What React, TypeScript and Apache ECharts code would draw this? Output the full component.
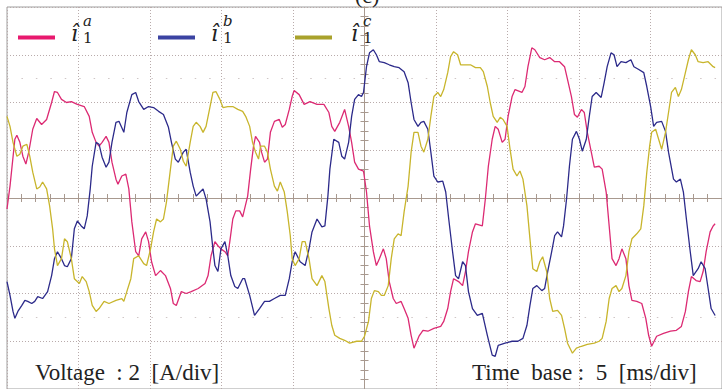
import React, { useEffect, useRef } from "react";
import * as echarts from "echarts";

// Oscilloscope capture: time base 5 ms/div (10 div), current 2 A/div (8 div)
const timeMin = 0;
const timeMax = 50;
const timeStep = 5;
const currentMin = -8;
const currentMax = 8;
const currentStep = 2;

const phaseLetters = ["a", "b", "c"];
const traceColors = ["#dc2a73", "#2c2a8a", "#c8b52c"];
const legendColors = ["#e8196e", "#3b43a2", "#a9a22c"];
const footerLeft = "Voltage\u00A0\u00A0: 2\u00A0\u00A0[A/div]";
const footerRight = "Time\u00A0\u00A0base\u00A0: \u00A05\u00A0\u00A0[ms/div]";
const serifFamily = "Liberation Serif";
const mathFamily = "DejaVu Serif";

// [time ms, current A]
const ia: [number, number][] = [
  [0,-0.46],[0.21,0.50],[0.55,2.46],[0.69,2.63],[0.90,2.33],[1.11,1.75],[1.32,1.42],[1.52,1.92],[1.80,2.88],[2.08,3.33],[2.42,3.08],[2.77,3.29],[3.12,4.00],[3.32,4.46],[3.53,4.42],[3.81,4.13],[4.16,4.00],[4.50,4.04],[4.92,3.92],[5.40,3.83],[5.75,3.42],[5.96,2.75],[6.23,2.33],[6.44,2.17],[6.65,2.33],[6.93,2.58],[7.13,2.33],[7.34,1.50],[7.62,0.79],[7.76,0.58],[8.03,0.92],[8.31,1.00],[8.52,0.38],[8.73,-1.00],[9.00,-2.25],[9.21,-2.42],[9.42,-1.71],[9.70,-1.42],[9.90,-1.83],[10.11,-2.67],[10.39,-3.25],[10.73,-3.04],[11.08,-3.25],[11.43,-3.79],[11.63,-4.42],[11.84,-4.50],[12.19,-3.92],[12.53,-4.00],[12.88,-3.92],[13.37,-3.79],[13.85,-3.58],[14.06,-3.25],[14.27,-2.42],[14.54,-1.83],[14.75,-2.00],[14.96,-2.13],[15.24,-2.25],[15.44,-2.42],[15.58,-1.83],[15.79,-0.88],[16.00,-0.54],[16.27,-0.54],[16.48,-0.79],[16.83,0.08],[17.04,1.21],[17.24,2.17],[17.38,2.58],[17.66,2.33],[17.80,1.92],[18.01,1.50],[18.21,1.63],[18.42,2.75],[18.70,3.21],[19.04,3.29],[19.25,2.96],[19.46,3.08],[19.74,3.71],[19.94,4.25],[20.08,4.50],[20.43,4.33],[20.78,3.92],[21.19,4.04],[21.68,3.92],[22.16,3.92],[22.51,3.58],[22.71,3.00],[22.92,2.79],[23.27,3.17],[23.61,3.71],[23.89,3.00],[24.10,2.33],[24.31,1.50],[24.58,1.21],[24.93,1.13],[25.14,0.25],[25.35,-1.17],[25.62,-2.25],[25.83,-2.83],[26.04,-2.54],[26.32,-2.13],[26.52,-2.54],[26.73,-3.50],[27.01,-4.21],[27.22,-4.42],[27.56,-4.33],[27.77,-4.63],[28.05,-5.04],[28.26,-5.75],[28.46,-6.29],[28.81,-5.79],[29.09,-5.54],[29.43,-5.58],[29.85,-5.46],[30.33,-5.38],[30.54,-5.17],[30.82,-4.63],[31.02,-3.92],[31.23,-3.38],[31.58,-3.50],[31.86,-3.67],[32.06,-3.08],[32.27,-2.25],[32.55,-1.42],[32.76,-1.08],[33.24,-1.17],[33.45,-0.04],[33.66,1.33],[33.93,2.46],[34.14,3.00],[34.35,2.88],[34.63,2.33],[34.83,2.46],[35.04,3.42],[35.32,4.25],[35.53,4.54],[36.01,4.42],[36.22,4.67],[36.43,5.50],[36.70,6.29],[36.91,6.21],[37.26,5.88],[37.60,5.79],[37.95,5.88],[38.30,5.71],[38.64,5.71],[38.99,5.50],[39.20,4.96],[39.47,4.25],[39.68,3.50],[39.89,3.38],[40.17,3.71],[40.37,3.58],[40.58,2.75],[40.86,1.92],[41.07,1.29],[41.41,1.33],[41.62,1.21],[41.90,0.25],[42.11,-1.17],[42.31,-2.54],[42.59,-2.83],[42.80,-2.54],[43.00,-2.13],[43.28,-2.54],[43.49,-3.67],[43.70,-4.29],[44.04,-4.33],[44.39,-4.42],[44.67,-5.04],[44.87,-5.75],[45.08,-6.21],[45.43,-5.79],[45.91,-5.67],[46.40,-5.58],[46.81,-5.54],[47.16,-5.38],[47.44,-4.75],[47.65,-3.92],[47.86,-3.29],[48.19,-3.46],[48.47,-3.50],[48.68,-3.08],[48.89,-2.25],[49.17,-1.42],[49.38,-1.17],[49.52,-1.08]
];

const ib: [number, number][] = [
  [0,-3.50],[0.21,-4.08],[0.42,-4.75],[0.55,-5.04],[0.76,-4.75],[1.04,-4.50],[1.25,-4.29],[1.45,-4.33],[1.73,-4.42],[1.94,-4.33],[2.15,-4.13],[2.49,-4.21],[2.84,-3.92],[3.12,-3.25],[3.32,-2.54],[3.53,-2.25],[3.81,-2.54],[4.02,-2.83],[4.22,-2.88],[4.50,-2.54],[4.71,-1.29],[4.92,-0.96],[5.19,-1.17],[5.40,-1.29],[5.61,-0.75],[5.82,0.38],[5.96,1.33],[6.23,2.33],[6.44,2.25],[6.65,1.71],[6.93,1.29],[7.13,1.50],[7.34,2.33],[7.62,3.17],[7.83,3.21],[8.17,2.75],[8.38,3.58],[8.73,4.33],[9.00,4.42],[9.21,4.04],[9.56,3.71],[9.90,3.83],[10.25,3.79],[10.60,3.63],[10.94,3.50],[11.29,2.96],[11.50,2.33],[11.77,1.63],[11.98,1.50],[12.33,1.92],[12.53,2.04],[12.81,1.08],[13.02,0.50],[13.23,0.08],[13.50,0.25],[13.71,0.38],[13.92,-0.04],[14.20,-1.00],[14.40,-2.13],[14.54,-2.83],[14.75,-3.08],[14.96,-2.13],[15.24,-1.83],[15.44,-2.42],[15.65,-3.25],[15.93,-3.71],[16.14,-3.79],[16.48,-3.38],[16.62,-3.38],[16.97,-4.08],[17.31,-4.92],[17.66,-4.63],[18.01,-4.33],[18.35,-4.33],[18.70,-4.21],[19.11,-4.08],[19.46,-4.08],[19.74,-3.38],[19.94,-2.67],[20.15,-2.25],[20.50,-2.67],[20.85,-2.83],[21.12,-2.13],[21.33,-1.42],[21.68,-0.88],[22.02,-1.21],[22.23,-1.17],[22.44,0.08],[22.58,1.21],[22.85,2.46],[23.20,2.33],[23.41,1.75],[23.61,1.63],[23.89,2.33],[24.10,3.42],[24.31,4.13],[24.58,4.33],[24.79,4.25],[24.93,4.42],[25.14,5.50],[25.35,6.08],[25.62,6.21],[25.83,6.00],[26.04,5.71],[26.38,5.67],[26.73,5.58],[27.08,5.50],[27.42,5.46],[27.77,5.29],[28.05,4.83],[28.26,4.00],[28.46,3.29],[28.74,3.00],[28.95,3.17],[29.15,3.21],[29.43,2.88],[29.64,1.92],[29.85,0.92],[30.12,0.67],[30.47,0.71],[30.68,0.25],[30.89,-0.88],[31.16,-2.25],[31.37,-3.25],[31.58,-3.38],[31.86,-2.67],[32.06,-2.83],[32.27,-3.92],[32.55,-4.63],[32.89,-4.92],[33.24,-4.83],[33.59,-5.75],[33.93,-6.58],[34.14,-6.63],[34.35,-6.17],[34.83,-6.08],[35.32,-6.00],[35.73,-6.00],[36.08,-5.88],[36.36,-5.33],[36.57,-4.50],[36.77,-3.79],[37.05,-3.67],[37.40,-3.88],[37.60,-3.79],[37.81,-3.08],[38.09,-2.25],[38.30,-1.58],[38.50,-1.42],[38.78,-1.63],[38.92,-1.17],[39.13,-0.04],[39.33,1.33],[39.54,2.46],[39.82,2.79],[40.03,2.46],[40.23,1.96],[40.51,2.46],[40.72,3.42],[40.92,4.25],[41.20,4.42],[41.55,4.21],[41.76,4.83],[41.97,5.50],[42.24,6.08],[42.45,6.00],[42.66,5.50],[42.94,5.71],[43.28,5.67],[43.63,5.79],[43.84,5.50],[44.18,5.38],[44.53,5.25],[44.74,4.67],[45.01,3.83],[45.22,3.00],[45.43,3.17],[45.78,3.21],[46.05,2.79],[46.26,1.92],[46.61,0.79],[46.81,0.67],[47.09,0.79],[47.30,0.25],[47.51,-0.88],[47.78,-2.25],[47.99,-3.25],[48.33,-2.96],[48.54,-2.67],[48.82,-2.96],[49.03,-3.79],[49.24,-4.63],[49.52,-4.92]
];

const ic: [number, number][] = [
  [0,3.42],[0.21,3.00],[0.42,2.33],[0.69,1.75],[0.90,1.83],[1.11,2.17],[1.39,2.25],[1.59,1.75],[1.80,1.08],[2.08,0.38],[2.29,0.46],[2.49,0.67],[2.77,0.38],[2.98,-0.33],[3.19,-1.29],[3.32,-2.13],[3.53,-2.83],[3.81,-2.54],[4.02,-1.71],[4.22,-1.83],[4.50,-2.54],[4.71,-3.38],[5.06,-3.58],[5.26,-3.29],[5.54,-3.50],[5.75,-3.92],[5.96,-4.50],[6.23,-4.75],[6.44,-4.63],[6.79,-4.33],[7.13,-4.42],[7.62,-4.29],[8.03,-4.21],[8.17,-4.33],[8.38,-3.92],[8.66,-3.38],[8.86,-2.54],[9.21,-2.42],[9.56,-2.75],[9.76,-2.83],[10.04,-2.13],[10.25,-1.42],[10.46,-0.88],[10.73,-1.00],[10.94,-0.88],[11.15,-0.17],[11.43,1.21],[11.63,2.17],[11.84,2.38],[12.12,2.04],[12.33,1.54],[12.53,1.33],[12.81,2.33],[13.02,3.00],[13.23,3.17],[13.50,3.00],[13.71,2.75],[13.92,3.00],[14.20,3.83],[14.40,4.42],[14.61,4.46],[14.89,4.13],[15.10,3.79],[15.44,3.83],[15.79,3.83],[16.14,3.71],[16.48,3.63],[16.69,3.42],[16.97,3.00],[17.17,2.33],[17.38,1.92],[17.59,1.63],[17.73,2.17],[18.01,2.17],[18.21,1.92],[18.42,1.21],[18.70,0.50],[18.91,0.29],[19.11,0.67],[19.39,0.25],[19.60,-0.58],[19.81,-1.58],[19.94,-2.54],[20.15,-2.83],[20.43,-2.54],[20.64,-1.83],[20.85,-1.83],[21.12,-2.54],[21.33,-3.38],[21.68,-3.67],[22.02,-3.25],[22.23,-3.50],[22.51,-4.63],[22.71,-5.33],[22.92,-5.75],[23.27,-5.88],[23.61,-5.96],[23.96,-6.08],[24.45,-6.00],[24.79,-6.00],[25.00,-5.79],[25.28,-5.17],[25.48,-4.21],[25.69,-3.88],[25.97,-3.92],[26.18,-4.08],[26.38,-4.08],[26.66,-3.67],[26.87,-2.54],[27.08,-1.71],[27.35,-1.50],[27.56,-1.58],[27.77,-0.58],[28.05,0.50],[28.26,1.92],[28.46,2.75],[28.74,2.75],[28.95,2.17],[29.15,1.92],[29.43,2.46],[29.64,3.42],[29.85,4.25],[30.12,4.42],[30.33,4.25],[30.54,4.54],[30.82,5.25],[31.02,5.92],[31.23,6.13],[31.51,6.00],[31.72,5.58],[32.06,5.58],[32.41,5.58],[32.76,5.46],[33.10,5.46],[33.31,5.29],[33.59,4.67],[33.79,4.00],[34.00,3.42],[34.28,3.17],[34.49,3.38],[34.69,3.29],[34.97,3.00],[35.18,2.04],[35.39,1.21],[35.66,0.92],[35.87,1.13],[36.08,0.79],[36.36,-0.33],[36.57,-1.71],[36.77,-2.96],[37.05,-3.08],[37.26,-2.67],[37.46,-2.46],[37.74,-3.08],[37.95,-4.21],[38.16,-4.75],[38.50,-4.71],[38.78,-4.92],[38.99,-5.46],[39.20,-6.08],[39.54,-6.50],[39.82,-6.29],[40.17,-6.21],[40.58,-6.13],[41.07,-6.08],[41.41,-6.00],[41.62,-5.88],[41.90,-5.17],[42.11,-4.21],[42.31,-3.79],[42.59,-3.67],[42.80,-3.92],[43.00,-3.79],[43.28,-3.25],[43.49,-2.25],[43.70,-1.71],[44.04,-1.50],[44.32,-1.29],[44.53,-0.33],[44.74,1.08],[44.94,2.17],[45.08,2.75],[45.36,2.88],[45.57,2.46],[45.78,2.04],[46.05,2.75],[46.26,3.58],[46.47,4.42],[46.74,4.63],[46.95,4.25],[47.16,4.54],[47.44,5.25],[47.65,5.79],[47.86,6.21],[48.13,6.00],[48.33,5.71],[48.68,5.67],[49.03,5.71],[49.38,5.50],[49.52,5.46]
];

const traces = [ia, ib, ic];

export default function App() {
  const ref = useRef<HTMLDivElement>(null);

  useEffect(() => {
    if (!ref.current) return;
    const chart = echarts.init(ref.current, null, { renderer: "svg" });

    const dotted = { type: [1, 2] as any, color: "#b9abab", width: 1 };
    const centerColor = "#a8998f";

    const legendX = [18, 158, 295];
    const labelX = [71, 211, 351];
    const graphic: any[] = [];
    const titles: any[] = [];
    phaseLetters.forEach((letter, i) => {
      graphic.push({
        type: "rect",
        shape: { x: legendX[i], y: 35.5, width: 37, height: 4 },
        style: { fill: legendColors[i] },
        silent: true,
      });
      titles.push({
        text: "\u00EE",
        left: labelX[i],
        top: 20,
        padding: 0,
        textStyle: { fontFamily: mathFamily, fontStyle: "italic", fontWeight: "normal", fontSize: 22, color: "#222", lineHeight: 26 },
      });
      titles.push({
        text: letter,
        left: labelX[i] + 12,
        top: 13,
        padding: 0,
        textStyle: { fontFamily: mathFamily, fontStyle: "italic", fontWeight: "normal", fontSize: 15, color: "#222", lineHeight: 16 },
      });
      titles.push({
        text: "1",
        left: labelX[i] + 12,
        top: 30,
        padding: 0,
        textStyle: { fontFamily: mathFamily, fontWeight: "normal", fontSize: 15, color: "#222", lineHeight: 16 },
      });
    });
    titles.push({
      text: footerLeft,
      left: 35,
      top: 359,
      padding: 0,
      textStyle: { fontFamily: serifFamily, fontWeight: "normal", fontSize: 23, color: "#222", lineHeight: 26 },
    });
    titles.push({
      text: footerRight,
      left: 472,
      top: 359,
      padding: 0,
      textStyle: { fontFamily: serifFamily, fontWeight: "normal", fontSize: 23, color: "#222", lineHeight: 26 },
    });
    titles.push({
      text: "(c)",
      left: 355,
      top: -17,
      padding: 0,
      textStyle: { fontFamily: serifFamily, fontWeight: "normal", fontSize: 22, color: "#222", lineHeight: 24 },
    });

    const option: any = {
      animation: false,
      backgroundColor: "#ffffff",
      title: titles,
      grid: {
        left: 7,
        top: 7,
        width: 722,
        height: 384,
        show: true,
        borderColor: "#9e9e9e",
        borderWidth: 1,
        backgroundColor: "transparent",
      },
      xAxis: [
        {
          type: "value",
          min: timeMin,
          max: timeMax,
          interval: timeStep,
          position: "bottom",
          axisLine: { show: true, onZero: true, onZeroAxisIndex: 0, lineStyle: { color: centerColor, width: 1 } },
          axisTick: { show: true, inside: true, length: 4, lineStyle: { color: centerColor } },
          minorTick: { show: true, splitNumber: 5, length: 4, lineStyle: { color: centerColor } },
          axisLabel: { show: false },
          splitLine: { show: true, lineStyle: dotted },
        },
        {
          type: "value",
          min: -(timeMax - timeMin) / 2,
          max: (timeMax - timeMin) / 2,
          interval: timeStep,
          position: "bottom",
          axisLine: { show: true, onZero: true, onZeroAxisIndex: 0, lineStyle: { color: centerColor, width: 1 } },
          axisTick: { show: true, inside: false, length: 4, lineStyle: { color: centerColor } },
          minorTick: { show: true, splitNumber: 5, length: 4, lineStyle: { color: centerColor } },
          axisLabel: { show: false },
          splitLine: { show: false },
        },
      ],
      yAxis: [
        {
          type: "value",
          min: currentMin,
          max: currentMax,
          interval: currentStep,
          position: "left",
          axisLine: { show: true, onZero: true, onZeroAxisIndex: 1, lineStyle: { color: centerColor, width: 1 } },
          axisTick: { show: true, inside: true, length: 4, lineStyle: { color: centerColor } },
          minorTick: { show: true, splitNumber: 5, length: 4, lineStyle: { color: centerColor } },
          axisLabel: { show: false },
          splitLine: { show: true, lineStyle: dotted },
        },
        {
          type: "value",
          min: currentMin,
          max: currentMax,
          interval: currentStep,
          position: "left",
          axisLine: { show: true, onZero: true, onZeroAxisIndex: 1, lineStyle: { color: centerColor, width: 1 } },
          axisTick: { show: true, inside: false, length: 4, lineStyle: { color: centerColor } },
          minorTick: { show: true, splitNumber: 5, length: 4, lineStyle: { color: centerColor } },
          axisLabel: { show: false },
          splitLine: { show: false },
        },
      ],
      graphic,
      series: [
        ...traces.map((data, i) => ({
          name: "\u00EE1" + phaseLetters[i],
          type: "line",
          xAxisIndex: 0,
          yAxisIndex: 0,
          data,
          showSymbol: false,
          symbol: "none",
          lineStyle: { color: traceColors[i], width: 1.3 },
          itemStyle: { color: traceColors[i] },
          z: 3,
          silent: true,
          markLine:
            i === 0
              ? {
                  silent: true,
                  symbol: "none",
                  label: { show: false },
                  lineStyle: { type: [1.5, 12.94], color: "#cfc6c6", width: 1 },
                  data: [{ yAxis: 5 }, { yAxis: -5 }],
                  z: 1,
                }
              : undefined,
        })),
      ],
    };

    chart.setOption(option);
    return () => chart.dispose();
  }, []);

  return (
    <div
      ref={ref}
      style={{ position: "absolute", left: 0, top: 0, width: 722, height: 389, background: "#fff" }}
    />
  );
}
